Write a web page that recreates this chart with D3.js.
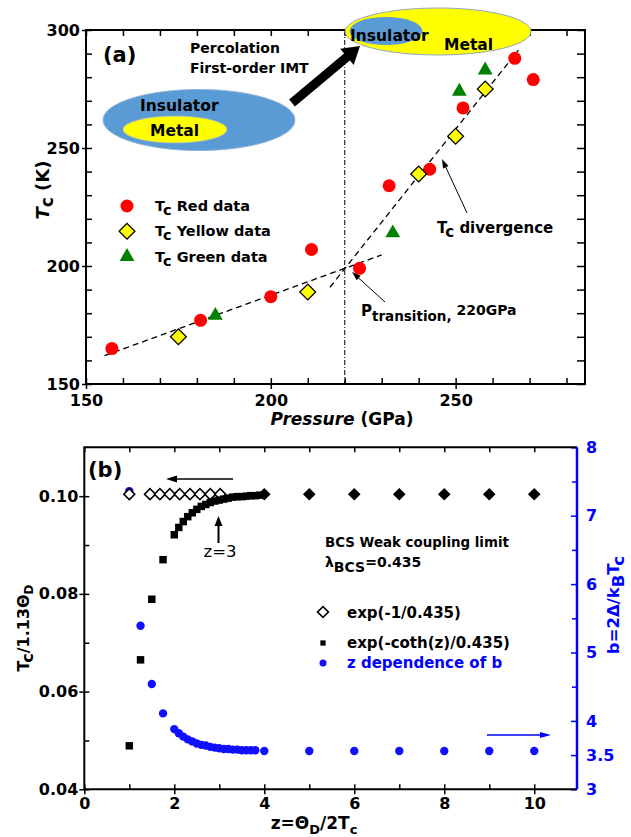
<!DOCTYPE html>
<html>
<head>
<meta charset="UTF-8" />
<style>
  body { margin: 0; background: #fff; }
  svg text { font-family: "DejaVu Sans", "Liberation Sans", sans-serif; font-weight: bold; }
  .axis path { display: none; }
  .axis line { stroke: #000; stroke-width: 1.5px; }
  .axis text { font-size: 16px; fill: #000; font-family: "DejaVu Sans", sans-serif; font-weight: bold; }
  .blue line { stroke: #0000ff; }
  .blue text { fill: #0000ff; }
</style>
<script src="https://d3js.org/d3.v7.min.js"></script>
</head>
<body>
<svg width="631" height="837"></svg>
<script>
// ---- panel (a): Tc vs pressure ----
const redData = [[157,165],[181,177],[200,187],[211,207],[224,199],[232,234],[243,241],[252,267],[266,288],[271,279]];
const yellowData = [[175,170],[210,189],[240,239],[250,255],[258,275]];
const greenData = [[185,179],[233,214],[251,274],[258,283]];
const fitLow = [[155,162],[230,204.7]];
const fitHigh = [[216,191],[267,291.5]];
const pTransition = 220;
const pTicks = [150,200,250];
const pMinor = [160,170,180,190,210,220,230,240,260,270,280];
const tTicks = [150,200,250,300];
const tMinor = [160,170,180,190,210,220,230,240,260,270,280,290];

// ---- panel (b): BCS ratio vs z ----
const zOpen = [1, 1.46, 1.68, 1.9, 2.12, 2.35, 2.57, 2.8, 3.02];
const openVal = [0.1004, 0.1004, 0.1004, 0.1004, 0.1004, 0.1004, 0.1004, 0.1004, 0.1004];
const zFilled = [4, 5, 6, 7, 8, 9, 10];
const filledVal = [0.1004, 0.1004, 0.1004, 0.1004, 0.1004, 0.1004, 0.1004];
const zSq = [1, 1.25, 1.5, 1.75, 2.0, 2.1, 2.2, 2.3, 2.4, 2.5, 2.6, 2.7, 2.8, 2.9, 3.0, 3.1, 3.2, 3.3, 3.4, 3.5, 3.6, 3.7, 3.8, 3.9];
const sqVal = [0.0489, 0.0665, 0.0789, 0.0870, 0.0921, 0.0936, 0.0948, 0.0958, 0.0966, 0.0973, 0.0979, 0.0983, 0.0987, 0.0990, 0.0992, 0.0994, 0.0996, 0.0998, 0.0999, 0.0999, 0.1000, 0.1001, 0.1001, 0.1002];
const zB = [1, 1.25, 1.5, 1.75, 2.0, 2.1, 2.2, 2.3, 2.4, 2.5, 2.6, 2.7, 2.8, 2.9, 3.0, 3.1, 3.2, 3.3, 3.4, 3.5, 3.6, 3.7, 3.8, 4, 5, 6, 7, 8, 9, 10];
const bVal = [7.36, 5.39, 4.54, 4.11, 3.88, 3.82, 3.77, 3.73, 3.70, 3.67, 3.65, 3.64, 3.62, 3.61, 3.60, 3.59, 3.59, 3.58, 3.58, 3.57, 3.57, 3.57, 3.57, 3.56, 3.56, 3.56, 3.56, 3.56, 3.56, 3.56];
const zTicks = [0,2,4,6,8,10];
const zMinor = [1,3,5,7,9];
const rTicks = [0.04,0.06,0.08,0.10];
const rMinor = [0.05,0.07,0.09];
const bTicks = [3,3.5,4,5,6,7,8];
const bMinor = [4.5,5.5,6.5,7.5];

const svg = d3.select("svg");

function arrow(g, x1, y1, x2, y2, sw, len, wid, color) {
  const a = Math.atan2(y2 - y1, x2 - x1);
  const bx = x2 - len * Math.cos(a), by = y2 - len * Math.sin(a);
  const nx = -Math.sin(a) * wid / 2, ny = Math.cos(a) * wid / 2;
  g.append("line")
    .attr("x1", x1).attr("y1", y1)
    .attr("x2", (bx + x2) / 2).attr("y2", (by + y2) / 2)
    .attr("stroke", color).attr("stroke-width", sw);
  g.append("path")
    .attr("d", `M${x2},${y2}L${bx + nx},${by + ny}L${bx - nx},${by - ny}Z`)
    .attr("fill", color);
}

function tc(t, size, italic) {
  // T with subscript c
  t.append("tspan").text("T").style("font-style", italic ? "italic" : null);
  t.append("tspan").text("c").attr("font-size", size).attr("dy", 4);
  return t;
}

// ================= panel (a) =================
const xA = d3.scaleLinear().domain([150, 285]).range([86, 585]);
const yA = d3.scaleLinear().domain([150, 300]).range([384, 30]);
const ga = svg.append("g");

ga.append("g").attr("class", "axis").attr("transform", "translate(0,384)")
  .call(d3.axisBottom(xA).tickValues(pTicks).tickSize(5).tickPadding(6));
ga.append("g").attr("class", "axis").attr("transform", "translate(0,384)")
  .call(d3.axisBottom(xA).tickValues(pMinor.concat(pTicks)).tickSize(-6).tickFormat(""));
ga.append("g").attr("class", "axis").attr("transform", "translate(0,30)")
  .call(d3.axisTop(xA).tickValues(pMinor.concat(pTicks)).tickSize(-6).tickFormat(""));
ga.append("g").attr("class", "axis").attr("transform", "translate(86,0)")
  .call(d3.axisLeft(yA).tickValues(tTicks).tickSize(4).tickPadding(2));
ga.append("g").attr("class", "axis").attr("transform", "translate(86,0)")
  .call(d3.axisLeft(yA).tickValues(tMinor.concat(tTicks)).tickSize(-6).tickFormat(""));
ga.append("g").attr("class", "axis").attr("transform", "translate(585,0)")
  .call(d3.axisRight(yA).tickValues(tMinor.concat(tTicks)).tickSize(-8).tickFormat(""));
ga.append("rect").attr("x", 86).attr("y", 30).attr("width", 499).attr("height", 354)
  .attr("fill", "none").attr("stroke", "#000").attr("stroke-width", 2);

// transition line and fits
ga.append("line").attr("x1", xA(pTransition)).attr("x2", xA(pTransition))
  .attr("y1", yA(300)).attr("y2", yA(150))
  .attr("stroke", "#000").attr("stroke-width", 1).attr("stroke-dasharray", "5,2,1,2");
[fitLow, fitHigh].forEach(f => {
  ga.append("line").attr("x1", xA(f[0][0])).attr("y1", yA(f[0][1]))
    .attr("x2", xA(f[1][0])).attr("y2", yA(f[1][1]))
    .attr("stroke", "#000").attr("stroke-width", 1.3).attr("stroke-dasharray", "6,4");
});

// data
ga.append("g").selectAll("circle").data(redData).join("circle")
  .attr("cx", d => xA(d[0])).attr("cy", d => yA(d[1])).attr("r", 6.5).attr("fill", "#ff0000");
const diamond = d3.symbol().type(d3.symbolSquare).size(125);
ga.append("g").selectAll("path").data(yellowData).join("path")
  .attr("d", diamond)
  .attr("transform", d => `translate(${xA(d[0])},${yA(d[1])}) rotate(45)`)
  .attr("fill", "#ffff00").attr("stroke", "#000").attr("stroke-width", 1.3);
const tri = d3.symbol().type(d3.symbolTriangle).size(95);
ga.append("g").selectAll("path").data(greenData).join("path")
  .attr("d", tri)
  .attr("transform", d => `translate(${xA(d[0])},${yA(d[1])})`)
  .attr("fill", "#008000");

// legend (a)
const legA = [["Red data", "circle"], ["Yellow data", "diamond"], ["Green data", "tri"]];
legA.forEach((l, i) => {
  const yy = 206 + i * 25.3;
  if (l[1] === "circle") ga.append("circle").attr("cx", 127).attr("cy", yy).attr("r", 6.5).attr("fill", "#ff0000");
  if (l[1] === "diamond") ga.append("path").attr("d", diamond).attr("transform", `translate(127,${yy}) rotate(45)`)
    .attr("fill", "#ffff00").attr("stroke", "#000").attr("stroke-width", 1.3);
  if (l[1] === "tri") ga.append("path").attr("d", tri).attr("transform", `translate(127,${yy})`).attr("fill", "#008000");
  const t = ga.append("text").attr("x", 155).attr("y", yy + 5).attr("font-size", 14.5);
  tc(t, 14.5, false);
  t.append("tspan").text(" " + l[0]).attr("dy", -4);
});

// annotations (a)
ga.append("text").attr("x", 103).attr("y", 62).attr("font-size", 21).text("(a)");
ga.append("text").attr("x", 190).attr("y", 53).attr("font-size", 14).text("Percolation");
ga.append("text").attr("x", 190).attr("y", 73).attr("font-size", 14).text("First-order IMT");

ga.append("ellipse").attr("cx", 199).attr("cy", 120).attr("rx", 96).attr("ry", 30.5)
  .attr("fill", "#5b9bd5").attr("stroke", "#8fb4d9").attr("stroke-width", 1);
ga.append("ellipse").attr("cx", 175).attr("cy", 129.5).attr("rx", 52).attr("ry", 13.5)
  .attr("fill", "#ffff00").attr("stroke", "#a8b8c8").attr("stroke-width", 0.8);
ga.append("text").attr("x", 140).attr("y", 110.5).attr("font-size", 15.5).text("Insulator");
ga.append("text").attr("x", 150).attr("y", 136).attr("font-size", 15.5).text("Metal");

ga.append("ellipse").attr("cx", 438).attr("cy", 31.5).attr("rx", 93).attr("ry", 23.5)
  .attr("fill", "#ffff00").attr("stroke", "#8fa8b8").attr("stroke-width", 1);
ga.append("ellipse").attr("cx", 386).attr("cy", 31).attr("rx", 36.5).attr("ry", 14)
  .attr("fill", "#5b9bd5");
ga.append("text").attr("x", 350).attr("y", 40.5).attr("font-size", 15.5).text("Insulator");
ga.append("text").attr("x", 444).attr("y", 50).attr("font-size", 15.5).text("Metal");

arrow(ga, 292, 103, 360, 46, 9, 17, 21, "#000");
arrow(ga, 467, 213, 442, 159, 1, 9, 6, "#000");
arrow(ga, 385, 302, 352, 272, 1, 9, 6, "#000");

const tdiv = ga.append("text").attr("x", 437).attr("y", 233).attr("font-size", 15);
tc(tdiv, 15, false);
tdiv.append("tspan").text(" divergence").attr("dy", -4);

const ptr = ga.append("text").attr("x", 361).attr("y", 316).attr("font-size", 15);
ptr.append("tspan").text("P");
ptr.append("tspan").text("transition,").attr("font-size", 13.5).attr("dy", 5);
ptr.append("tspan").text(" 220GPa").attr("font-size", 14).attr("dy", -6);

// axis titles (a)
const ya = ga.append("text").attr("transform", "translate(49,190) rotate(-90)")
  .attr("text-anchor", "middle").attr("font-size", 18);
tc(ya, 17, true);
ya.append("tspan").text(" (K)").attr("dy", -4);

const xa = ga.append("text").attr("x", 342).attr("y", 425).attr("text-anchor", "middle").attr("font-size", 17);
xa.append("tspan").text("Pressure").style("font-style", "italic");
xa.append("tspan").text(" (GPa)");

// ================= panel (b) =================
const xB = d3.scaleLinear().domain([0, 10.95]).range([84.3, 577]);
const yB = d3.scaleLinear().domain([0.04, 0.11]).range([789.3, 447.3]);
const bS = d3.scaleLinear().domain([3, 8]).range([789.3, 447.3]);
const gb = svg.append("g");

gb.append("g").attr("class", "axis").attr("transform", "translate(0,789.3)")
  .call(d3.axisBottom(xB).tickValues(zTicks).tickSize(5).tickPadding(3).tickFormat(d3.format("d")));
gb.append("g").attr("class", "axis").attr("transform", "translate(0,789.3)")
  .call(d3.axisBottom(xB).tickValues(zMinor.concat(zTicks)).tickSize(-5).tickFormat(""));
gb.append("g").attr("class", "axis").attr("transform", "translate(0,447.3)")
  .call(d3.axisTop(xB).tickValues(zMinor.concat(zTicks)).tickSize(-5).tickFormat(""));
gb.append("g").attr("class", "axis").attr("transform", "translate(84.3,0)")
  .call(d3.axisLeft(yB).tickValues(rTicks).tickSize(5).tickPadding(1).tickFormat(d3.format(".2f")));
gb.append("g").attr("class", "axis").attr("transform", "translate(84.3,0)")
  .call(d3.axisLeft(yB).tickValues(rMinor.concat(rTicks)).tickSize(-5).tickFormat(""));
gb.append("g").attr("class", "axis blue").attr("transform", "translate(577,0)")
  .call(d3.axisRight(bS).tickValues(bTicks).tickSize(-6).tickPadding(9).tickFormat(d => d));
gb.append("g").attr("class", "axis blue").attr("transform", "translate(577,0)")
  .call(d3.axisRight(bS).tickValues(bMinor).tickSize(-5).tickFormat(""));

gb.append("path").attr("d", "M577,447.3H84.3V789.3H577")
  .attr("fill", "none").attr("stroke", "#000").attr("stroke-width", 2);
gb.append("line").attr("x1", 577).attr("x2", 577).attr("y1", 447.3).attr("y2", 789.3)
  .attr("stroke", "#0000ff").attr("stroke-width", 2.5);

// blue b(z)
gb.append("g").selectAll("circle").data(zB).join("circle")
  .attr("cx", d => xB(d)).attr("cy", (d, i) => bS(bVal[i])).attr("r", 4.2).attr("fill", "#1010ff");
// open diamonds
const dSmall = d3.symbol().type(d3.symbolSquare).size(60);
gb.append("g").selectAll("path").data(zOpen).join("path")
  .attr("d", dSmall)
  .attr("transform", (d, i) => `translate(${xB(d)},${yB(openVal[i])}) rotate(45)`)
  .attr("fill", "#fff").attr("stroke", "#000").attr("stroke-width", 1.6);
// squares
const sq = d3.symbol().type(d3.symbolSquare).size(56);
gb.append("g").selectAll("path").data(zSq).join("path")
  .attr("d", sq)
  .attr("transform", (d, i) => `translate(${xB(d)},${yB(sqVal[i])})`)
  .attr("fill", "#000");
// filled diamonds
const dBig = d3.symbol().type(d3.symbolSquare).size(80);
gb.append("g").selectAll("path").data(zFilled).join("path")
  .attr("d", dBig)
  .attr("transform", (d, i) => `translate(${xB(d)},${yB(filledVal[i])}) rotate(45)`)
  .attr("fill", "#000");

// annotations (b)
gb.append("text").attr("x", 88).attr("y", 477).attr("font-size", 21).text("(b)");
arrow(gb, 233, 479, 166, 479, 1.5, 11, 7, "#000");
arrow(gb, 487, 735, 551, 735, 1.5, 11, 6, "#0000ff");
arrow(gb, 218.5, 543, 218.5, 516, 2, 10, 8, "#000");
gb.append("text").attr("x", 220).attr("y", 557).attr("text-anchor", "middle")
  .attr("font-size", 16.5).style("font-weight", "normal").text("z=3");

gb.append("text").attr("x", 325).attr("y", 547).attr("font-size", 13.4).text("BCS Weak coupling limit");
const lam = gb.append("text").attr("x", 325).attr("y", 567).attr("font-size", 14);
lam.append("tspan").text("λ");
lam.append("tspan").text("BCS").attr("dy", 5);
lam.append("tspan").text("=0.435").attr("dy", -5);

// legend (b)
gb.append("path").attr("d", dSmall).attr("transform", "translate(323,612) rotate(45)")
  .attr("fill", "#fff").attr("stroke", "#000").attr("stroke-width", 1.6);
gb.append("text").attr("x", 347).attr("y", 618).attr("font-size", 15).text("exp(-1/0.435)");
gb.append("path").attr("d", d3.symbol().type(d3.symbolSquare).size(28)).attr("transform", "translate(323,643)")
  .attr("fill", "#000");
gb.append("text").attr("x", 347).attr("y", 648).attr("font-size", 15).text("exp(-coth(z)/0.435)");
gb.append("circle").attr("cx", 323).attr("cy", 663).attr("r", 3.5).attr("fill", "#1010ff");
gb.append("text").attr("x", 347).attr("y", 668).attr("font-size", 15).attr("fill", "#0000ff").text("z dependence of b");

// axis titles (b)
const yb = gb.append("text").attr("transform", "translate(29,628) rotate(-90)")
  .attr("text-anchor", "middle").attr("font-size", 16);
yb.append("tspan").text("T");
yb.append("tspan").text("c").attr("dy", 4);
yb.append("tspan").text("/1.13Θ").attr("dy", -4);
yb.append("tspan").text("D").attr("font-size", 12).attr("dy", 4);

const yr = gb.append("text").attr("transform", "translate(619,605) rotate(-90)")
  .attr("text-anchor", "middle").attr("font-size", 16.5).attr("fill", "#0000ff");
yr.append("tspan").text("b=2Δ/k");
yr.append("tspan").text("B").attr("dy", 5);
yr.append("tspan").text("T").attr("dy", -5);
yr.append("tspan").text("c").attr("dy", 5);

const xb = gb.append("text").attr("x", 314).attr("y", 829).attr("text-anchor", "middle").attr("font-size", 17);
xb.append("tspan").text("z=Θ");
xb.append("tspan").text("D").attr("font-size", 13).attr("dy", 5);
xb.append("tspan").text("/2T").attr("dy", -5);
xb.append("tspan").text("c").attr("font-size", 13).attr("dy", 5);
</script>
</body>
</html>
